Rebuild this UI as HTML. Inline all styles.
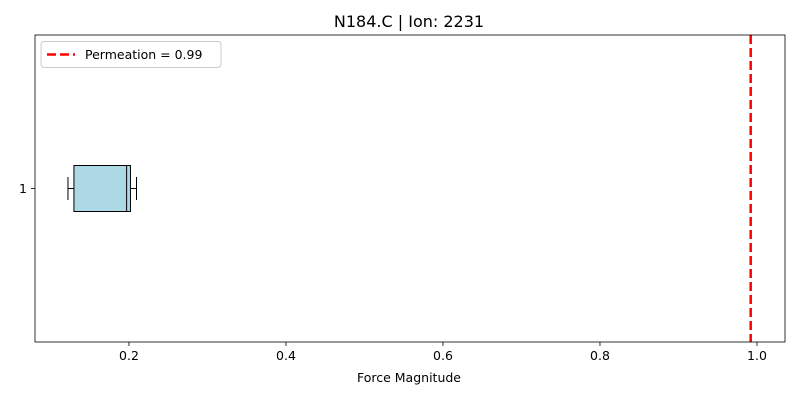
<!DOCTYPE html>
<html><head><meta charset="utf-8"><style>
body{margin:0;background:#fff;}
svg{font-family:"DejaVu Sans","Liberation Sans",sans-serif;}
</style></head><body>
<svg id="chart" width="800" height="400" xmlns="http://www.w3.org/2000/svg"></svg>
<script>
const categories=["1"];
const whiskerLow=[0.1223];
const q1=[0.1299];
const median=[0.1970];
const q3=[0.2019];
const whiskerHigh=[0.2096];
const permeation=[0.992];
const xTicks=[0.2,0.4,0.6,0.8,1.0];
const xTickLabels=["0.2","0.4","0.6","0.8","1.0"];
const X0=35,X1=785,Y0=35,Y1=342;
const xMin=0.0803,xMax=1.0357;
function xs(v){return X0+(v-xMin)/(xMax-xMin)*(X1-X0);}
function ys(i){return Y0+(i+0.5)/categories.length*(Y1-Y0);}
const svg=document.getElementById('chart');
const NS="http://www.w3.org/2000/svg";
function mk(t,a,p){const e=document.createElementNS(NS,t);for(const k in a)e.setAttribute(k,a[k]);(p||svg).appendChild(e);return e;}
let t=mk('text',{x:409,y:27,'text-anchor':'middle','font-size':16});t.textContent="N184.C | Ion: 2231";


xTicks.forEach((v,i)=>{const x=xs(v);
 const l=mk('line',{x1:x,x2:x,y1:Y1,y2:Y1+4,stroke:'#000','stroke-width':0.8});
 
 
 const tx=mk('text',{x:x,y:Y1+18,'text-anchor':'middle','font-size':12.5});tx.textContent=xTickLabels[i];
 
 
});
let xl=mk('text',{x:409,y:382,'text-anchor':'middle','font-size':12.5});xl.textContent="Force Magnitude";


categories.forEach((c,i)=>{const y=ys(i);
 const tk=mk('line',{x1:X0-4,x2:X0,y1:y,y2:y,stroke:'#000','stroke-width':0.8});
 
 
 const tl=mk('text',{x:X0-8,y:y+4.5,'text-anchor':'end','font-size':12.5});tl.textContent=c;
 
 
 const g=mk('g',{stroke:'#000','stroke-width':1});
 
 
 const h=23;
 mk('line',{x1:xs(whiskerLow[i]),x2:xs(q1[i]),y1:y,y2:y},g);
 mk('line',{x1:xs(q3[i]),x2:xs(whiskerHigh[i]),y1:y,y2:y},g);
 mk('line',{x1:xs(whiskerLow[i]),x2:xs(whiskerLow[i]),y1:y-11.5,y2:y+11.5},g);
 mk('line',{x1:xs(whiskerHigh[i]),x2:xs(whiskerHigh[i]),y1:y-11.5,y2:y+11.5},g);
 mk('rect',{x:xs(q1[i]),y:y-h,width:xs(q3[i])-xs(q1[i]),height:2*h,fill:'#add8e6'},g);
 mk('line',{x1:xs(median[i]),x2:xs(median[i]),y1:y-h,y2:y+h},g);
});
const pl=mk('line',{x1:xs(permeation[0]),x2:xs(permeation[0]),y1:Y0,y2:Y1,stroke:'#ff0000','stroke-width':2.5,'stroke-dasharray':'9,4'});


const fr=mk('rect',{x:X0,y:Y0,width:X1-X0,height:Y1-Y0,fill:'none',stroke:'#000','stroke-width':0.8});


const lg=mk('g',{});


mk('rect',{x:41,y:41.5,width:180,height:26,rx:3,fill:'#fff',stroke:'#ccc','stroke-width':1},lg);
mk('line',{x1:47,x2:75,y1:54.5,y2:54.5,stroke:'#ff0000','stroke-width':2.5,'stroke-dasharray':'9,4'},lg);
const lt=mk('text',{x:85,y:59,'font-size':12.5},lg);lt.textContent="Permeation = 0.99";


</script>
</body></html>
